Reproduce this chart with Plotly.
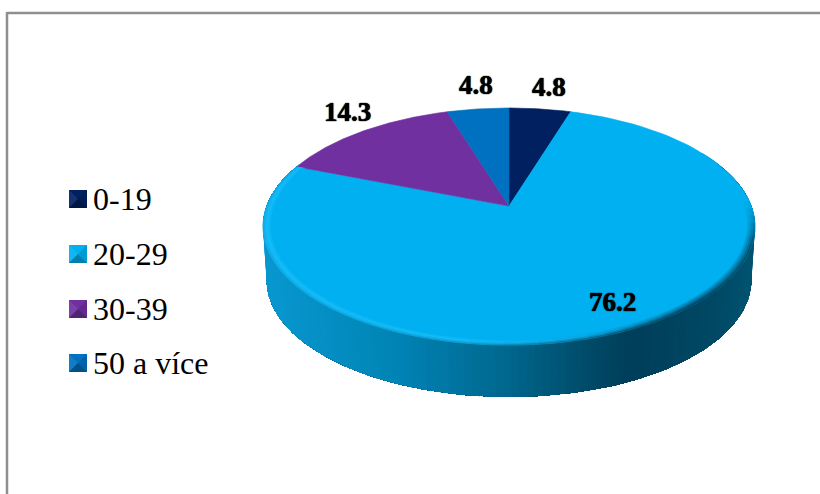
import numpy as np
import plotly.graph_objects as go

# Age bands and their shares (%)
categories = ["0-19", "20-29", "30-39", "50 a více"]
shares = [4.8, 76.2, 14.3, 4.8]
slice_colors = ["#002060", "#00b0f0", "#7030a0", "#0070c0"]
value_labels = ["4.8", "76.2", "14.3", "4.8"]

WIDTH, HEIGHT = 820, 494

# Tilted disc geometry, in pixels
APEX_X, APEX_Y = 509.0, 206.0
SCALE_X, SCALE_Y, TILT = 242.3, 115.0, 0.173
WALL_SHRINK, WALL_DROP = 0.985, 54.0

# Wall shading across the width of the disc
WALL_X = [262, 400, 510, 585, 630, 715, 755]
WALL_RGB = [(8, 152, 208), (0, 131, 180), (0, 102, 140), (0, 76, 106),
            (0, 62, 90), (0, 72, 100), (0, 84, 114)]

# Label centres
LABEL_XY = [(549, 87), (612, 302), (347, 112), (476, 85)]
LEGEND_ROWS_Y = [199, 254, 309, 363]
FRAME_COLOR = "#8f8f8f"


def project(theta, r=1.0):
    """Map a clockwise angle from twelve o'clock onto the tilted disc."""
    sx, sy = r * np.sin(theta), r * np.cos(theta)
    d = 1 + TILT * sy
    return APEX_X + SCALE_X * sx / d, APEX_Y - SCALE_Y * sy / d


def project_floor(theta):
    x, y = project(theta)
    return (APEX_X + (x - APEX_X) * WALL_SHRINK,
            APEX_Y + (y - APEX_Y) * WALL_SHRINK + WALL_DROP)


def hex_rgb(h):
    return tuple(int(h[i:i + 2], 16) for i in (1, 3, 5))


def css(rgb):
    return "rgb({},{},{})".format(*[int(round(float(v))) for v in rgb])


def mix(a, b, t):
    return tuple(p + (q - p) * t for p, q in zip(a, b))


def wall_rgb(x):
    return tuple(np.interp(x, WALL_X, [c[i] for c in WALL_RGB]) for i in range(3))


def polygon(xs, ys, color, edge=0.6):
    return go.Scatter(x=list(xs), y=list(ys), mode="lines", fill="toself",
                      fillcolor=color, line=dict(color=color, width=edge),
                      hoverinfo="skip", showlegend=False)


fig = go.Figure()

# Slice boundaries from the shares
fractions = np.array(shares) / sum(shares)
edges = np.concatenate([[0.0], np.cumsum(fractions)]) * 2 * np.pi

# Wall of the large slice: each layer runs on to the far end of the slice and
# is painted over by the next, so neighbouring tones meet without seams
start, stop = edges[1], edges[2]
wall_angles = np.linspace(max(start, np.radians(60)), stop, 150)
for i in range(len(wall_angles) - 1):
    arc = wall_angles[i:]
    xt, yt = project(arc)
    xf, yf = project_floor(arc)
    px, py = project((wall_angles[i] + wall_angles[i + 1]) / 2)
    fig.add_trace(polygon(np.r_[xt, xf[::-1], xt[0]], np.r_[yt, yf[::-1], yt[0]],
                          css(wall_rgb(px)), edge=0))

# Top faces
for i, color in enumerate(slice_colors):
    arc = np.linspace(edges[i], edges[i + 1], 120)
    x, y = project(arc)
    fig.add_trace(polygon(np.r_[APEX_X, x, APEX_X], np.r_[APEX_Y, y, APEX_Y], color))

# Soft bevel along the rim of the large slice, only above the visible wall
flat = hex_rgb(slice_colors[1])
bright = (24, 190, 250)
bands = [1.0, 0.992, 0.984, 0.976, 0.968, 0.96]
rim_angles = np.linspace(np.radians(88), stop, 60)
for a, b in zip(rim_angles[:-1], rim_angles[1:]):
    deg = np.degrees((a + b) / 2)
    glow = float(np.interp(deg, [140, 190, 292], [0.0, 1.0, 1.0]))
    presence = float(np.interp(deg, [88, 108], [0.0, 1.0]))
    mx, _ = project((a + b) / 2)
    edge_rgb = mix(flat, mix(wall_rgb(mx), bright, 0.55 * glow), presence)
    for j, (r0, r1) in enumerate(zip(bands[:-1], bands[1:])):
        t = j / (len(bands) - 2)
        lit = mix(edge_rgb, bright, t * 2.5) if t < 0.4 else mix(bright, flat, (t - 0.4) / 0.6)
        dark = mix(edge_rgb, flat, t)
        rgb = mix(dark, lit, glow)
        xa0, ya0 = project(a, r0)
        xb0, yb0 = project(b, r0)
        xb1, yb1 = project(b, r1)
        xa1, ya1 = project(a, r1)
        fig.add_trace(polygon([xa0, xb0, xb1, xa1, xa0], [ya0, yb0, yb1, ya1, ya0], css(rgb)))

# Legend keys: small bevelled squares
KEY_LEFT, KEY_SIZE = 69, 18
for cy, color in zip(LEGEND_ROWS_Y, slice_colors):
    base = hex_rgb(color)
    l, r = KEY_LEFT, KEY_LEFT + KEY_SIZE
    t, b = cy - KEY_SIZE / 2, cy + KEY_SIZE / 2
    mx, my = (l + r) / 2, (t + b) / 2
    fig.add_trace(polygon([l, r, r, l, l], [t, t, b, b, t], css(base), edge=0))
    faces = [
        ([l, mx, l], [t, my, b], mix(base, (255, 255, 255), 0.08)),
        ([r, r, mx], [t, b, my], mix(base, (0, 0, 0), 0.12)),
        ([l, r, mx], [b, b, my], mix(base, (0, 0, 0), 0.28)),
    ]
    for xs, ys, rgb in faces:
        fig.add_trace(polygon(xs + xs[:1], ys + ys[:1], css(rgb), edge=0))

annotations = []
for (x, y), text in zip(LABEL_XY, value_labels):
    annotations.append(dict(x=x, y=y, xref="x", yref="y", text=text, showarrow=False,
                            xanchor="center", yanchor="middle",
                            font=dict(family="Liberation Serif", size=27, color="#000000",
                                      weight="bold",
                                      shadow="0 0 1px #000000, 0 0 1px #000000")))
for cy, name in zip(LEGEND_ROWS_Y, categories):
    annotations.append(dict(x=91, y=cy, xref="x", yref="y", text=name, showarrow=False,
                            xanchor="left", yanchor="middle",
                            font=dict(family="Liberation Serif", size=32, color="#000000")))

# Chart frame: open on the right and at the bottom
frame = dict(color=FRAME_COLOR, width=2.5)
shapes = [
    dict(type="line", xref="x", yref="y", x0=7, x1=WIDTH, y0=13, y1=13, line=frame),
    dict(type="line", xref="x", yref="y", x0=7, x1=7, y0=12, y1=HEIGHT, line=frame),
]

fig.update_layout(
    width=WIDTH, height=HEIGHT, margin=dict(l=0, r=0, t=0, b=0),
    paper_bgcolor="white", plot_bgcolor="white", showlegend=False,
    xaxis=dict(range=[0, WIDTH], visible=False, fixedrange=True),
    yaxis=dict(range=[HEIGHT, 0], visible=False, fixedrange=True),
    annotations=annotations, shapes=shapes,
)

fig.write_html("out.html", config=dict(displayModeBar=False))
